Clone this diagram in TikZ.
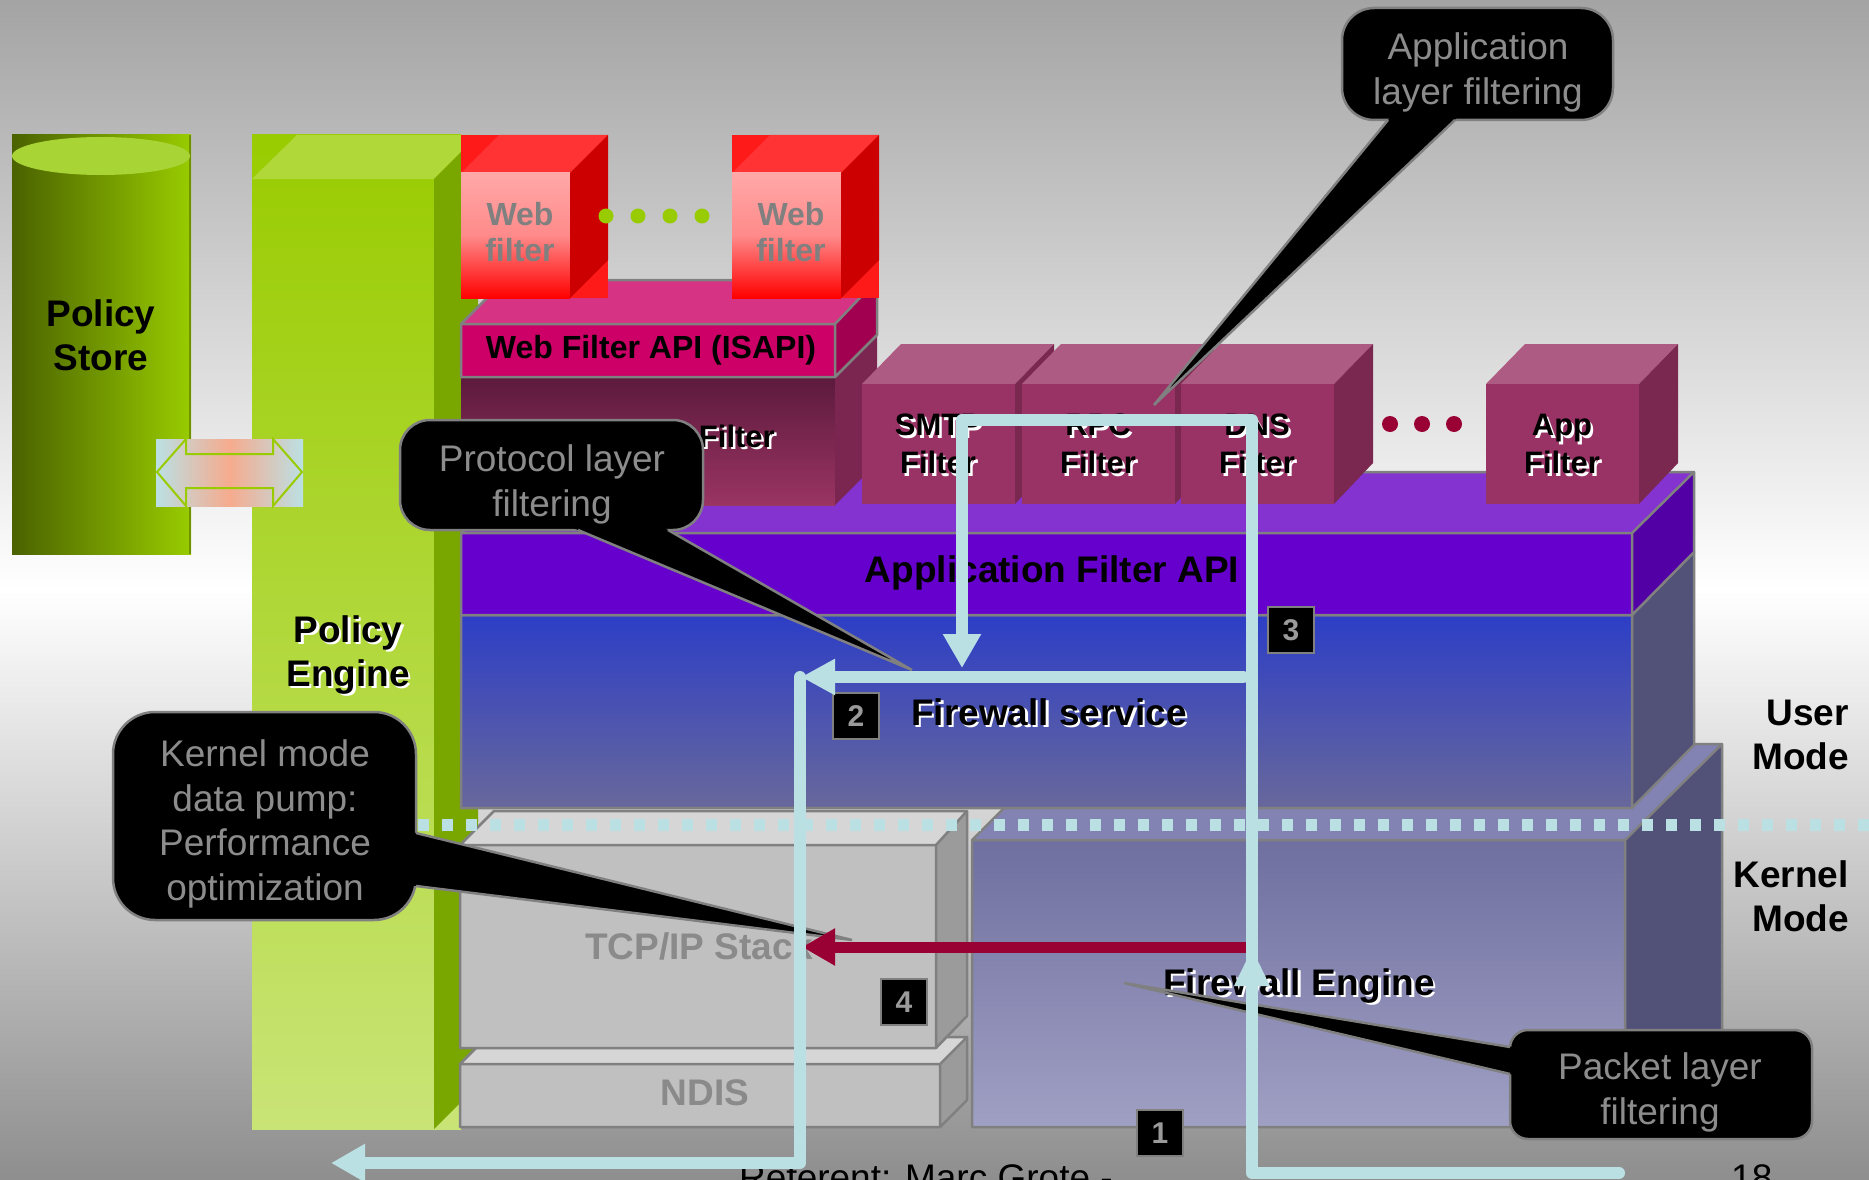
\documentclass[tikz,border=0pt]{standalone}
\usepackage{fontspec}
\setmainfont{Liberation Sans}
\usetikzlibrary{arrows.meta,calc}

\definecolor{bgTop}{HTML}{A4A4A4}
\definecolor{bgBot}{HTML}{8E8E8E}
\definecolor{psDark}{HTML}{4A6200}
\definecolor{psLight}{HTML}{99CC00}
\definecolor{psCap}{HTML}{A8D436}
\definecolor{psEdge}{HTML}{6F9200}
\definecolor{peTop}{HTML}{99CC00}
\definecolor{peBot}{HTML}{C9E476}
\definecolor{peLid}{HTML}{B0D838}
\definecolor{peSide}{HTML}{7AA600}
\definecolor{wfBack}{HTML}{FF1A1A}
\definecolor{wfLid}{HTML}{FF3333}
\definecolor{wfFaceTop}{HTML}{FFA8A8}
\definecolor{wfFaceMid}{HTML}{FF8A8A}
\definecolor{wfFaceBot}{HTML}{FF0000}
\definecolor{wfSide}{HTML}{CC0000}
\definecolor{wfText}{HTML}{808080}
\definecolor{isFront}{HTML}{CC0066}
\definecolor{isLid}{HTML}{D63384}
\definecolor{isSide}{HTML}{A0004F}
\definecolor{wpTop}{HTML}{5C1A3D}
\definecolor{wpBot}{HTML}{9A3462}
\definecolor{wpSide}{HTML}{7B2651}
\definecolor{afFront}{HTML}{993366}
\definecolor{afLid}{HTML}{AD5B83}
\definecolor{afSide}{HTML}{7A2850}
\definecolor{apiFront}{HTML}{6600CC}
\definecolor{apiLid}{HTML}{8433D1}
\definecolor{apiSide}{HTML}{5200A6}
\definecolor{fsTop}{HTML}{2D3EC6}
\definecolor{fsBot}{HTML}{68689B}
\definecolor{slate}{HTML}{525278}
\definecolor{feTop}{HTML}{6F6FA0}
\definecolor{feBot}{HTML}{A0A0C4}
\definecolor{feLid}{HTML}{8383B3}
\definecolor{stFront}{HTML}{C0C0C0}
\definecolor{stLid}{HTML}{D6D6D6}
\definecolor{stSide}{HTML}{9B9B9B}
\definecolor{stText}{HTML}{8A8A8A}
\definecolor{flow}{HTML}{BBE0E4}
\definecolor{pump}{HTML}{990033}
\definecolor{edgeGray}{HTML}{808080}
\definecolor{noteText}{HTML}{8C8C8C}
\definecolor{numText}{HTML}{9A9A9A}
\definecolor{arrSalmon}{HTML}{F6AB8E}

\tikzset{
  big/.style={font=\fontsize{37}{44}\selectfont\bfseries, align=center, inner sep=0pt},
  mid/.style={font=\fontsize{31}{38}\selectfont\bfseries, align=center, inner sep=0pt},
  webtxt/.style={font=\fontsize{32}{36}\selectfont\bfseries, align=center, inner sep=0pt, text=wfText},
  note/.style={font=\fontsize{37}{45}\selectfont, align=center, inner sep=0pt, text=noteText},
  outline/.style={draw=edgeGray, line width=2.5pt, line join=round},
  callout/.style={fill=black, draw=edgeGray, line width=2.5pt},
  wedgeside/.style={draw=edgeGray, line width=2.5pt},
  flowline/.style={draw=flow, line width=12pt, line cap=round, line join=round},
  numbox/.style={fill=black, draw=edgeGray, line width=2pt, minimum size=46pt,
    inner sep=0pt, font=\fontsize{30}{30}\selectfont\bfseries, text=numText},
}

% label with a white drop shadow
\newcommand{\liftlabel}[4]{%
  \node[#3, text=white] at ($(#2)+(2.5,2.5)$) {#4};
  \node[#3] (#1) at (#2) {#4};}

% red web filter block, left edge at #1
\newcommand{\webfilterbox}[2]{%
  \begin{scope}[shift={(#1,0)}]
    \fill[wfBack] (0,135) rectangle (147,298);
    \fill[wfLid] (0,173) -- (38,135) -- (147,135) -- (109,173) -- cycle;
    \shade[top color=wfFaceTop, bottom color=wfFaceBot, middle color=wfFaceMid] (0,173) rectangle (109,298);
    \fill[wfSide] (109,173) -- (147,135) -- (147,260) -- (109,298) -- cycle;
    \node[webtxt] (#2) at (59,232) {Web\\filter};
  \end{scope}}

% application filter block, left edge at #1
\newcommand{\appfilterbox}[3]{%
  \begin{scope}[shift={(#1,0)}]
    \fill[afLid] (0,384) -- (39,344) -- (192,344) -- (153,384) -- cycle;
    \fill[afSide] (153,384) -- (192,344) -- (192,463) -- (153,504) -- cycle;
    \fill[afFront] (0,384) rectangle (153,504);
    \liftlabel{#2}{76,444}{mid}{#3}
  \end{scope}}

\begin{document}
\begin{tikzpicture}[x=1pt,y=-1pt]
\useasboundingbox (0,0) rectangle (1869,1180);
\clip (0,0) rectangle (1869,1180);
\shade[top color=bgTop, bottom color=bgBot, middle color=white] (0,0) rectangle (1869,1180);

% ---- policy store (cylinder)
\shade[left color=psDark, right color=psLight] (12,135) rectangle (191,554);
\draw[psEdge, line width=2pt] (190,135) -- (190,554);
\fill[psCap] (101,156) ellipse [x radius=89, y radius=19];
\node[big] (store) at (101,335) {Policy\\Store};

% ---- policy engine (tall block)
\shade[top color=peTop, bottom color=peBot] (252,135) rectangle (461,1129);
\fill[peLid] (252,179) -- (297,135) -- (478,135) -- (434,179) -- cycle;
\fill[peSide] (434,179) -- (478,135) -- (478,1085) -- (434,1129) -- cycle;
\liftlabel{engine}{348,655}{big}{Policy\\Engine}

% ---- exchange arrow between store and engine
\shade[left color=flow, right color=flow, middle color=arrSalmon] (156,439) rectangle (303,506);
\draw[psLight, line width=2pt] (157,472) -- (186,439) -- (186,454) -- (273,454) -- (273,439)
  -- (302,472) -- (273,506) -- (273,488) -- (186,488) -- (186,506) -- cycle;

% ---- NDIS
\fill[stLid] (460,1064) -- (487,1037) -- (967,1037) -- (940,1064) -- cycle;
\fill[stSide] (940,1064) -- (967,1037) -- (967,1100) -- (940,1127) -- cycle;
\fill[stFront] (460,1064) rectangle (940,1127);
\draw[outline] (460,1064) rectangle (940,1127)
  (940,1064) -- (967,1037) -- (967,1100) -- (940,1127)
  (460,1064) -- (487,1037) -- (967,1037);
\node[big, text=stText] (ndis) at (705,1093) {NDIS};

% ---- TCP/IP stack
\fill[stLid] (460,845) -- (494,811) -- (967,811) -- (936,845) -- cycle;
\fill[stSide] (936,845) -- (967,811) -- (967,1016) -- (936,1048) -- cycle;
\fill[stFront] (460,845) rectangle (936,1048);
\draw[outline] (460,845) rectangle (936,1048)
  (936,845) -- (967,811) -- (967,1016) -- (936,1048)
  (460,845) -- (494,811) -- (967,811);
\node[big, text=stText, anchor=west] (tcp) at (585,946) {TCP/IP Stack};

% ---- firewall engine
\fill[feLid] (972,840) -- (1068,744) -- (1722,744) -- (1625,840) -- cycle;
\fill[slate] (1625,840) -- (1722,744) -- (1722,1030) -- (1625,1127) -- cycle;
\shade[top color=feTop, bottom color=feBot] (972,840) rectangle (1625,1127);
\draw[outline] (972,840) rectangle (1625,1127)
  (1625,840) -- (1722,744) -- (1722,1030) -- (1625,1127)
  (972,840) -- (1068,744) -- (1722,744);

% ---- firewall service
\shade[top color=fsTop, bottom color=fsBot] (461,615) rectangle (1632,808);
\fill[slate] (1632,615) -- (1694,552) -- (1694,745) -- (1632,808) -- cycle;
\draw[outline] (461,615) rectangle (1632,808)
  (1632,615) -- (1694,552) -- (1694,745) -- (1632,808);

% ---- application filter API
\fill[apiLid] (461,533) -- (522,472) -- (1694,472) -- (1632,533) -- cycle;
\fill[apiSide] (1632,533) -- (1694,472) -- (1694,552) -- (1632,615) -- cycle;
\fill[apiFront] (461,533) rectangle (1632,615);
\draw[outline] (461,533) rectangle (1632,615)
  (1632,533) -- (1694,472) -- (1694,552) -- (1632,615)
  (461,533) -- (522,472) -- (1694,472);

% ---- web proxy filter
\shade[top color=wpTop, bottom color=wpBot] (461,377) rectangle (835,505);
\fill[wpSide] (835,377) -- (877,335) -- (877,463) -- (835,505) -- cycle;
\liftlabel{wproxy}{775,439}{mid, anchor=east}{Web Proxy Filter}

% ---- web filter API
\fill[isLid] (461,324) -- (505,280) -- (877,280) -- (835,324) -- cycle;
\fill[isSide] (835,324) -- (877,280) -- (877,335) -- (835,377) -- cycle;
\fill[isFront] (461,324) rectangle (835,377);
\draw[outline] (461,324) rectangle (835,377)
  (835,324) -- (877,280) -- (877,335) -- (835,377)
  (461,324) -- (505,280) -- (877,280);
\node[font=\fontsize{32}{36}\selectfont\bfseries, inner sep=0pt] (isapi) at (651,350) {Web Filter API (ISAPI)};

% ---- web filters
\webfilterbox{461}{wf1}
\webfilterbox{732}{wf2}
\foreach \dx in {606,638,670,702} \fill[psLight] (\dx,216) circle (7.5);

% ---- application filters
\appfilterbox{862}{smtp}{SMTP\\Filter}
\appfilterbox{1022}{rpc}{RPC\\Filter}
\appfilterbox{1181}{dns}{DNS\\Filter}
\appfilterbox{1486}{appf}{App\\Filter}
\foreach \dx in {1390,1422,1454} \fill[pump] (\dx,424) circle (8);

% ---- layer labels
\node[big] (api) at (1052,573) {Application Filter API};
\liftlabel{fwsvc}{1049,712}{big}{Firewall service}
\liftlabel{fweng}{1299,986}{big}{Firewall Engine}
\node[big, align=right, anchor=east] (user) at (1849,735) {User\\Mode};
\node[big, align=right, anchor=east] (kernel) at (1849,896) {Kernel\\Mode};

% ---- user / kernel boundary
\coordinate (bndL) at (418,825);
\coordinate (bndR) at (1869,825);
\draw[flow, line width=11.5pt, dash pattern=on 11pt off 13pt] (bndL) -- (bndR);

% ---- step numbers
\node[numbox] (n1) at (1160,1133) {1};
\node[numbox] (n2) at (856,716) {2};
\node[numbox] (n3) at (1291,630) {3};
\node[numbox] (n4) at (904,1002) {4};

% ---- footer
\node[font=\fontsize{37}{44}\selectfont, anchor=base west, inner sep=0pt] (ref) at (739,1190) {Referent: Marc Grote -};
\node[font=\fontsize{37}{44}\selectfont, anchor=base west, inner sep=0pt] (page) at (1731,1190) {18};

% ---- callout: application layer
\draw[callout, rounded corners=32pt] (1342,8) rectangle (1613,120);
\fill (1394.6,112) -- (1154,405) -- (1463,112) -- cycle;
\draw[wedgeside] (1388,120) -- (1154,405) -- (1455,120);
\node[note] (noteApp) at (1478,72) {Application\\layer filtering};

% ---- callout: protocol layer
\draw[callout, rounded corners=30pt] (400,420) rectangle (703,530);
\fill (559,522) -- (912,670) -- (654,522) -- cycle;
\draw[wedgeside] (578,530) -- (912,670) -- (668,530);
\node[note] (noteProto) at (552,484) {Protocol layer\\filtering};

% ---- callout: kernel mode data pump
\draw[callout, rounded corners=42pt] (113,712) rectangle (416,920);
\fill (408,831) -- (852,940) -- (408,885) -- cycle;
\draw[wedgeside] (416,833) -- (852,940) -- (416,886);
\node[note, font=\fontsize{37}{44.7}\selectfont] (notePump) at (265,824) {Kernel mode\\data pump:\\Performance\\optimization};

% ---- callout: packet layer
\draw[callout, rounded corners=18pt] (1510,1030) rectangle (1812,1139);
\fill (1518,1048) -- (1124,983) -- (1518,1076) -- cycle;
\draw[wedgeside] (1510,1047) -- (1124,983) -- (1510,1074);
\node[note] (notePacket) at (1660,1092) {Packet layer\\filtering};

% ---- data pump (kernel shortcut)
\coordinate (pumpR) at (1248,947);
\coordinate (pumpL) at (802,947);
\draw[draw=pump, line width=11pt, -{Triangle[length=33pt,width=35pt]}] (pumpR) -- (pumpL);

% ---- packet flow
\coordinate (pIn) at (1619,1173);
\coordinate (pUp) at (1252,1173);
\coordinate (pTop) at (1252,420);
\coordinate (pTopL) at (962,420);
\coordinate (pDown) at (962,668);
\draw[flowline, -{Triangle[length=34pt,width=36pt]}] (pIn) -- (pUp) -- (pTop) -- (pTopL) -- (pDown);
\coordinate (upTip) at (1252,949);
\fill[flow] (upTip) -- ++(-18,37) -- ++(36,0) -- cycle;

\coordinate (sR) at (1243,677);
\coordinate (sL) at (801,677);
\draw[flowline, -{Triangle[length=34pt,width=34pt]}] (sR) -- (sL);

\coordinate (oTop) at (800,677);
\coordinate (oCorner) at (800,1163);
\coordinate (oOut) at (331,1163);
\draw[flowline, -{Triangle[length=34pt,width=36pt]}] (oTop) -- (oCorner) -- (oOut);

\end{tikzpicture}
\end{document}
